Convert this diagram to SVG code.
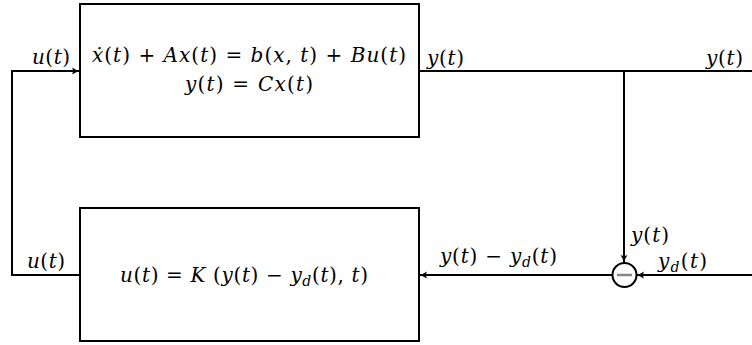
<svg xmlns="http://www.w3.org/2000/svg" width="752" height="345" viewBox="0 0 752 345">
<style>
.box{fill:#fff;stroke:#000;stroke-width:2}
.ln{fill:none;stroke:#000;stroke-width:2}
text{font-family:"DejaVu Serif","Liberation Serif",serif;font-size:20px;fill:#000}
.i{font-style:italic}
.sub{font-size:14px;font-style:italic}
</style>
<defs>
<marker id="ah" markerWidth="10" markerHeight="10" refX="8" refY="5" orient="auto" markerUnits="userSpaceOnUse">
<path d="M1,1.5 Q5,4 8,5 Q5,6 1,8.5 Q3,5 1,1.5 Z" fill="#000"/>
</marker>
</defs>
<g id="connectors">
<path class="ln" d="M80,275 H12 V71 H79" marker-end="url(#ah)"/>
<path class="ln" d="M419,71 H752"/>
<path class="ln" d="M624,71 V262" marker-end="url(#ah)"/>
<path class="ln" d="M752,275 H637" marker-end="url(#ah)"/>
<path class="ln" d="M612,275 H420" marker-end="url(#ah)"/>
</g>
<g id="plant">
<rect class="box" x="80" y="4" width="339" height="133"/>
<text x="92" y="62" textLength="314" lengthAdjust="spacing"><tspan class="i">ẋ</tspan>(<tspan class="i">t</tspan>) + <tspan class="i">Ax</tspan>(<tspan class="i">t</tspan>) = <tspan class="i">b</tspan>(<tspan class="i">x</tspan>, <tspan class="i">t</tspan>) + <tspan class="i">Bu</tspan>(<tspan class="i">t</tspan>)</text>
<text x="185" y="91" textLength="128" lengthAdjust="spacing"><tspan class="i">y</tspan>(<tspan class="i">t</tspan>) = <tspan class="i">Cx</tspan>(<tspan class="i">t</tspan>)</text>
</g>
<g id="controller">
<rect class="box" x="80" y="208" width="339" height="133"/>
<text x="120" y="282" textLength="248" lengthAdjust="spacing"><tspan class="i">u</tspan>(<tspan class="i">t</tspan>) = <tspan class="i">K</tspan> (<tspan class="i">y</tspan>(<tspan class="i">t</tspan>) − <tspan class="i">y</tspan><tspan class="sub" dy="4">d</tspan><tspan dy="-4">(</tspan><tspan class="i">t</tspan>), <tspan class="i">t</tspan>)</text>
</g>
<g id="sum">
<circle cx="624.5" cy="275" r="12" fill="#fff" stroke="#000" stroke-width="2"/>
<line x1="617" y1="275" x2="632" y2="275" stroke="#888" stroke-width="2.5"/>
</g>
<g id="labels">
<text x="32" y="64" textLength="38" lengthAdjust="spacing"><tspan class="i">u</tspan>(<tspan class="i">t</tspan>)</text>
<text x="427" y="65" textLength="37" lengthAdjust="spacing"><tspan class="i">y</tspan>(<tspan class="i">t</tspan>)</text>
<text x="706" y="65" textLength="37" lengthAdjust="spacing"><tspan class="i">y</tspan>(<tspan class="i">t</tspan>)</text>
<text x="631" y="242" textLength="38" lengthAdjust="spacing"><tspan class="i">y</tspan>(<tspan class="i">t</tspan>)</text>
<text x="658" y="268" textLength="49" lengthAdjust="spacing"><tspan class="i">y</tspan><tspan class="sub" dy="4">d</tspan><tspan dy="-4">(</tspan><tspan class="i">t</tspan>)</text>
<text x="440" y="263" textLength="117" lengthAdjust="spacing"><tspan class="i">y</tspan>(<tspan class="i">t</tspan>) − <tspan class="i">y</tspan><tspan class="sub" dy="4">d</tspan><tspan dy="-4">(</tspan><tspan class="i">t</tspan>)</text>
<text x="27" y="268" textLength="38" lengthAdjust="spacing"><tspan class="i">u</tspan>(<tspan class="i">t</tspan>)</text>
</g>
</svg>
